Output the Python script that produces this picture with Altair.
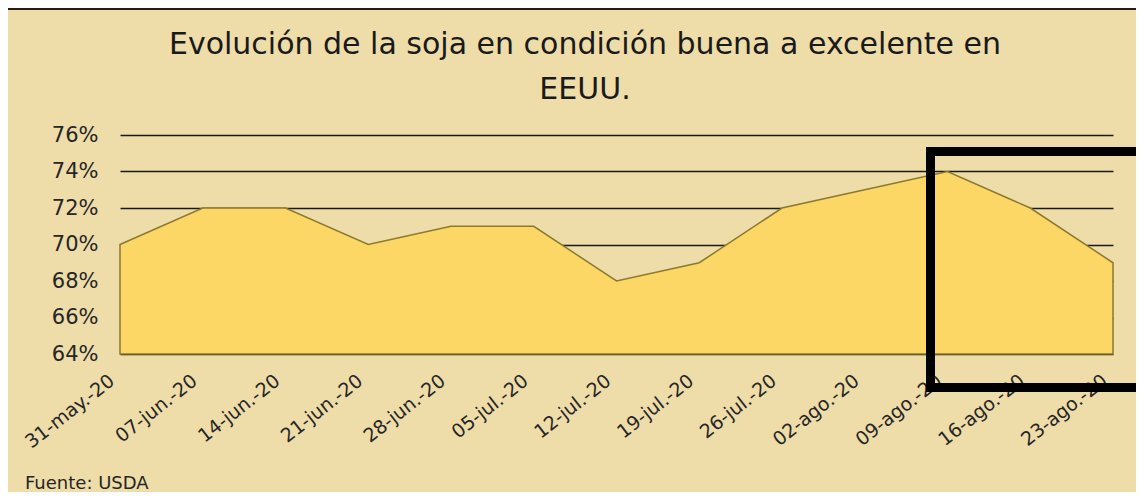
import altair as alt
import pandas as pd

fechas = ["31-may.-20", "07-jun.-20", "14-jun.-20", "21-jun.-20", "28-jun.-20",
          "05-jul.-20", "12-jul.-20", "19-jul.-20", "26-jul.-20", "02-ago.-20",
          "09-ago.-20", "16-ago.-20", "23-ago.-20"]
valores = [70, 72, 72, 70, 71, 71, 68, 69, 72, 73, 74, 72, 69]
y_ticks = [64, 66, 68, 70, 72, 74, 76]
y_min, y_max = 64, 76
titulo = ["Evolución de la soja en condición buena a excelente en", "EEUU."]
fuente = "Fuente: USDA"

df = pd.DataFrame({"fecha": fechas, "valor": valores})
one = pd.DataFrame({"k": [0]})

FONT = "DejaVu Sans"

base = alt.Chart(df)

area = base.mark_area(
    color="#FCD766", opacity=1, stroke="#8A7A2E", strokeWidth=1.5
).encode(
    x=alt.X("fecha:O", sort=None, title=None,
            scale=alt.Scale(type="point", padding=0),
            axis=alt.Axis(labelAngle=-38, labelFontSize=19, labelFont=FONT,
                          labelColor="#262626", ticks=False, tickSize=0,
                          labelOverlap=False, domain=False, grid=False,
                          labelPadding=17, labelOffset=-14)),
    y=alt.Y("valor:Q", title=None,
            scale=alt.Scale(domain=[y_min, y_max], nice=False, zero=False),
            axis=alt.Axis(values=y_ticks, labelExpr="datum.value + '%'",
                          labelFontSize=21, labelFont=FONT, labelColor="#262626",
                          grid=True, gridColor="#1a1a1a", gridWidth=1.5,
                          domain=False, ticks=False, tickSize=0, labelPadding=22)),
    y2=alt.datum(y_min),
)

caja = alt.Chart(one).mark_rect(
    fill="transparent", stroke="black", strokeWidth=9
).encode(x=alt.value(810.5), x2=alt.value(1021),
         y=alt.value(16.5), y2=alt.value(252.5))

marco = alt.Chart(one).mark_rect(
    fill="transparent", stroke="#2b1b10", strokeWidth=2
).encode(x=alt.value(-113), x2=alt.value(1040),
         y=alt.value(-126), y2=alt.value(400))

nota = alt.Chart(one).mark_text(
    align="left", baseline="alphabetic", fontSize=18, font=FONT, color="#262626"
).encode(x=alt.value(-95), y=alt.value(354), text=alt.value(fuente))

cabecera = alt.Chart(one).mark_text(
    align="center", baseline="middle", fontSize=30, font=FONT, color="#1a1a1a",
    lineHeight=45
).encode(x=alt.value(465), y=alt.value(-90), text=alt.value(titulo))

chart = alt.layer(area, caja, nota, cabecera, marco).properties(
    width=993, height=219,
    autosize="none",
    padding={"left": 112, "top": 127, "right": 23, "bottom": 138},
).configure(background="#EEDCA9").configure_view(stroke=None)

chart.save("out.html", embed_options={"renderer": "svg", "actions": False})
